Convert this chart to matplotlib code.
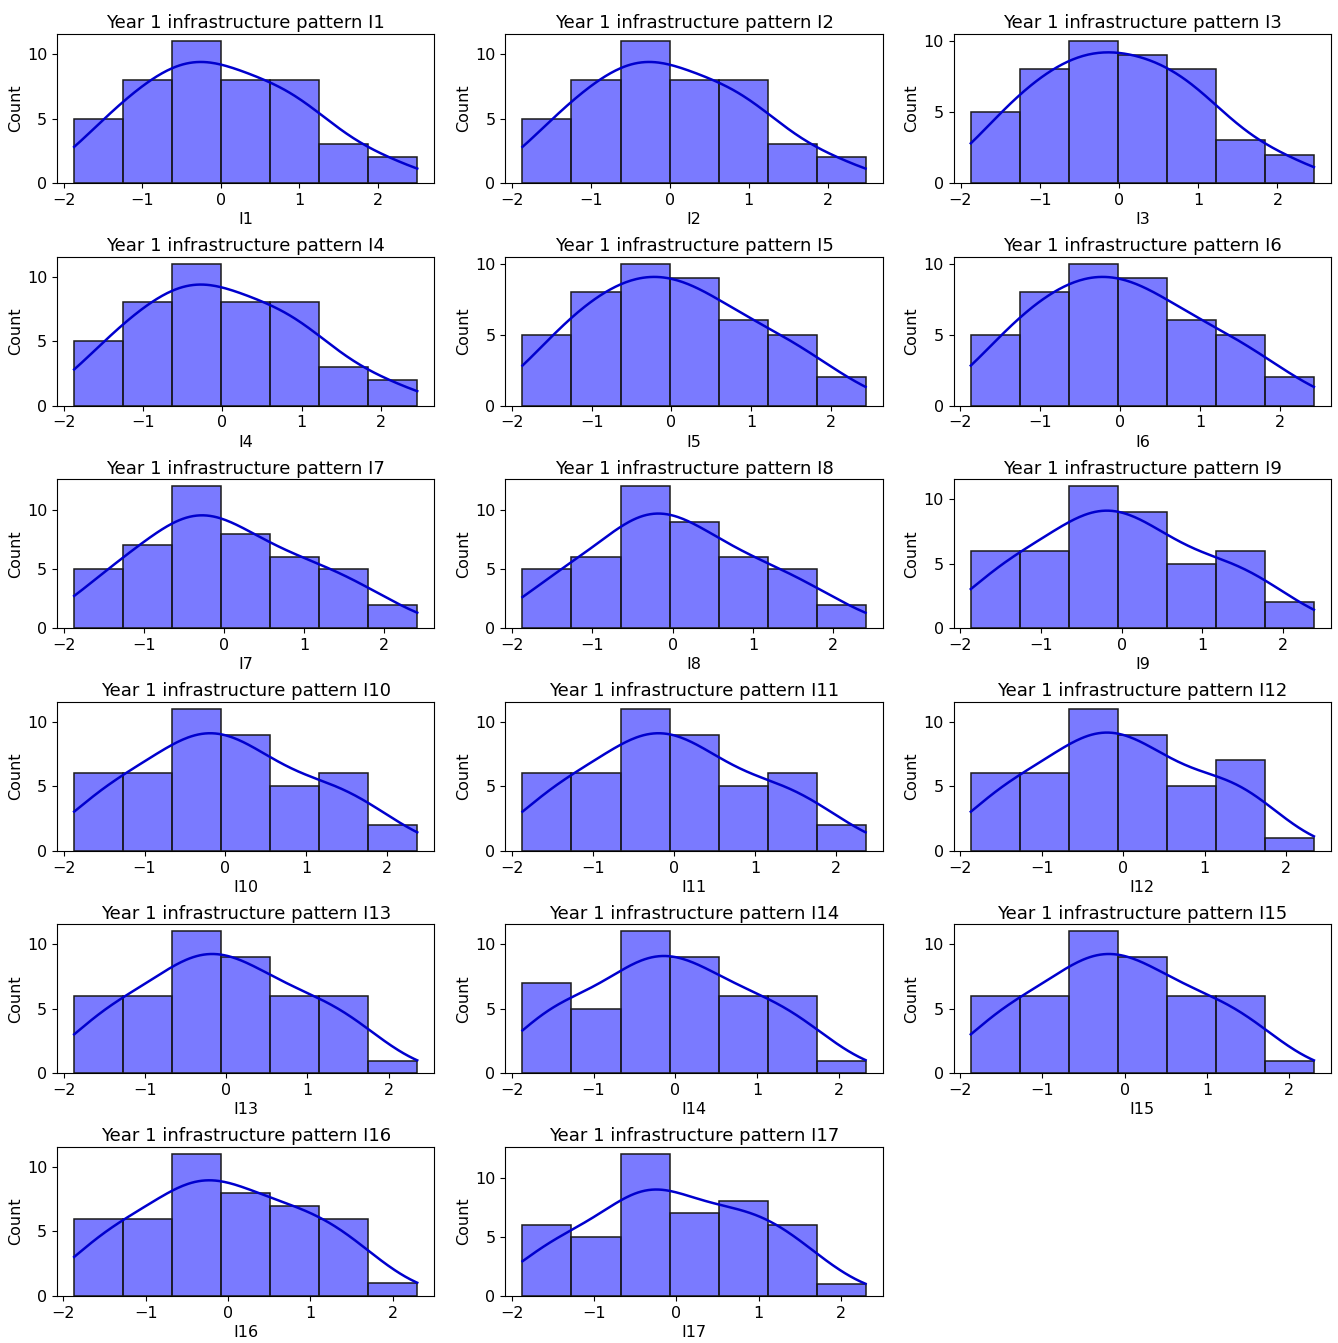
import numpy as np
import matplotlib
matplotlib.use("Agg")
import matplotlib.pyplot as plt
from matplotlib.ticker import MultipleLocator

# bin counts (7 bins) for each infrastructure pattern
counts = {
    "I1": [5, 8, 11, 8, 8, 3, 2],
    "I2": [5, 8, 11, 8, 8, 3, 2],
    "I3": [5, 8, 10, 9, 8, 3, 2],
    "I4": [5, 8, 11, 8, 8, 3, 2],
    "I5": [5, 8, 10, 9, 6, 5, 2],
    "I6": [5, 8, 10, 9, 6, 5, 2],
    "I7": [5, 7, 12, 8, 6, 5, 2],
    "I8": [5, 6, 12, 9, 6, 5, 2],
    "I9": [6, 6, 11, 9, 5, 6, 2],
    "I10": [6, 6, 11, 9, 5, 6, 2],
    "I11": [6, 6, 11, 9, 5, 6, 2],
    "I12": [6, 6, 11, 9, 5, 7, 1],
    "I13": [6, 6, 11, 9, 6, 6, 1],
    "I14": [7, 5, 11, 9, 6, 6, 1],
    "I15": [6, 6, 11, 9, 6, 6, 1],
    "I16": [6, 6, 11, 8, 7, 6, 1],
    "I17": [6, 5, 12, 7, 8, 6, 1],
}
# data range (min, max) of each standardized column
x_min = {k: -1.87 for k in counts}
x_max = {
    "I1": 2.50, "I2": 2.48, "I3": 2.46, "I4": 2.46, "I5": 2.44, "I6": 2.42,
    "I7": 2.41, "I8": 2.40, "I9": 2.38, "I10": 2.37, "I11": 2.36, "I12": 2.34,
    "I13": 2.35, "I14": 2.33, "I15": 2.30, "I16": 2.30, "I17": 2.30,
}


def pseudo_samples(edges, cnt):
    # spread each bin's count evenly inside the bin
    pts = []
    for lo, hi, c in zip(edges[:-1], edges[1:], cnt):
        pts.extend(lo + (np.arange(c) + 0.5) / c * (hi - lo))
    return np.array(pts)


def kde_counts(samples, grid, binw):
    n = len(samples)
    bw = samples.std(ddof=1) * n ** (-1 / 5)
    z = (grid[:, None] - samples[None, :]) / bw
    dens = np.exp(-0.5 * z ** 2).sum(axis=1) / (n * bw * np.sqrt(2 * np.pi))
    return dens * n * binw


fig, axes = plt.subplots(6, 3, figsize=(13.38, 13.43), dpi=100)
plt.subplots_adjust(left=0.0426, right=0.9948, top=0.9747, bottom=0.035,
                    wspace=0.188, hspace=0.493)
axes = axes.flatten()

for i, (name, cnt) in enumerate(counts.items()):
    ax = axes[i]
    edges = np.linspace(x_min[name], x_max[name], len(cnt) + 1)
    binw = edges[1] - edges[0]
    ax.bar(edges[:-1], cnt, width=binw, align="edge",
           facecolor=(0, 0, 1, 0.52), edgecolor="#1a1a1a", linewidth=1.1)
    samples = pseudo_samples(edges, cnt)
    grid = np.linspace(edges[0], edges[-1], 200)
    ax.plot(grid, kde_counts(samples, grid, binw), color="mediumblue", lw=1.8)
    ax.set_title(f"Year 1 infrastructure pattern {name}", fontsize=13, pad=4)
    ax.set_xlabel(name, fontsize=11.5, labelpad=3)
    ax.set_ylabel("Count", fontsize=11.5, labelpad=3)
    ax.tick_params(labelsize=11.5)
    ax.set_xticks([-2, -1, 0, 1, 2])
    ax.yaxis.set_major_locator(MultipleLocator(5))

for ax in axes[len(counts):]:
    ax.axis("off")

plt.savefig("out.png", dpi=100)
